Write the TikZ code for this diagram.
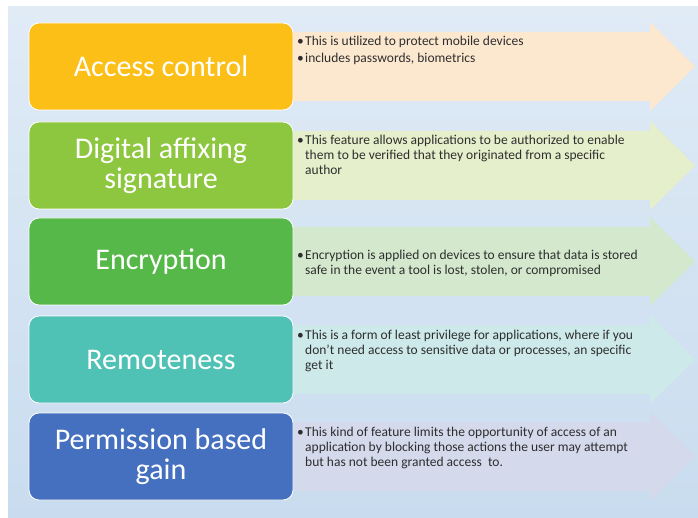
\documentclass[tikz,border=0pt]{standalone}
\usepackage{fontspec}
\setmainfont{Carlito}
\begin{document}
\definecolor{panelTop}{HTML}{E0EBF6}
\definecolor{panelBot}{HTML}{C9DCEF}
\definecolor{boxA}{HTML}{FCBF17}
\definecolor{boxB}{HTML}{8DC63F}
\definecolor{boxC}{HTML}{55B848}
\definecolor{boxD}{HTML}{4FC1B5}
\definecolor{boxE}{HTML}{4470BF}
\definecolor{arrA}{HTML}{FCE8CF}
\definecolor{arrB}{HTML}{E6EFCB}
\definecolor{arrC}{HTML}{D3E8CD}
\definecolor{arrD}{HTML}{CDE9EA}
\definecolor{arrE}{HTML}{D4D9EC}
\definecolor{descText}{HTML}{2E2E2E}
\newcommand\bul{\makebox[8pt][l]{\textbullet}}
\newcommand\ind{\hspace*{8pt}}
% a wide arrow band behind each heading box, centred on the row
\newcommand\bandarrow[2]{%
  \fill[#2] (285,#1-34.5) -- (650,#1-34.5) -- (650,#1-44.5) -- (695,#1)
    -- (650,#1+44.5) -- (650,#1+34.5) -- (285,#1+34.5) -- cycle;}
\begin{tikzpicture}[x=1pt,y=-1pt,
  headbox/.style={draw=white, line width=0.8pt, rounded corners=10pt,
    minimum width=264pt, minimum height=87pt, inner sep=0pt,
    text=white, align=center, font=\fontsize{30}{30}\selectfont},
  % anchored at the baseline of the last line
  desc/.style={anchor=base west, inner sep=0pt, align=left,
    text=descText, font=\fontsize{13.5}{15}\selectfont}]
\useasboundingbox (0,0) rectangle (698,518);
\shade[top color=panelTop, bottom color=panelBot] (8,7) rectangle (698,518);

\bandarrow{66.5}{arrA}
\bandarrow{165.5}{arrB}
\bandarrow{261.5}{arrC}
\bandarrow{359.5}{arrD}
\bandarrow{456.5}{arrE}

\node[headbox, fill=boxA] (access) at (161,66.5) {Access control};
\node[headbox, fill=boxB] (sign) at (161,165.5) {Digital affixing\\signature};
\node[headbox, fill=boxC] (encr) at (161,261.5) {Encryption};
\node[headbox, fill=boxD] (remote) at (161,359.5) {Remoteness};
\node[headbox, fill=boxE] (perm) at (161,456.5) {Permission based\\gain};

\node[desc] (accessd) at (297,63)
  {\bul This is utilized to protect mobile devices\\[2.5pt]
   \bul includes passwords, biometrics};
\node[desc] (signd) at (297,174.5)
  {\bul This feature allows applications to be authorized to enable\\
   \ind them to be verified that they originated from a specific\\
   \ind author};
\node[desc] (encrd) at (297,274.5)
  {\bul Encryption is applied on devices to ensure that data is stored\\
   \ind safe in the event a tool is lost, stolen, or compromised};
\node[desc] (remoted) at (297,369.5)
  {\bul This is a form of least privilege for applications, where if you\\
   \ind don't need access to sensitive data or processes, an specific\\
   \ind get it};
\node[desc] (permd) at (297,466)
  {\bul This kind of feature limits the opportunity of access of an\\
   \ind application by blocking those actions the user may attempt\\
   \ind but has not been granted access\ \ to.};
\end{tikzpicture}
\end{document}
